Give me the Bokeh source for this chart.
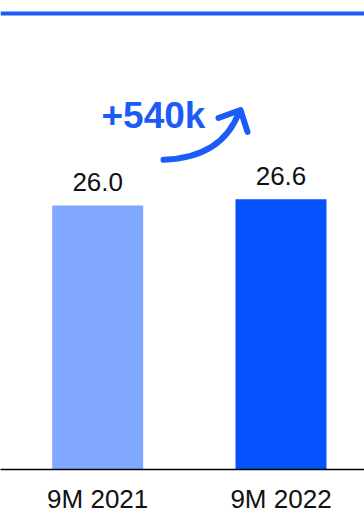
from bokeh.plotting import figure
from bokeh.models import Range1d, Span, FixedTicker
from bokeh.core.properties import value
from bokeh.embed import file_html
from bokeh.resources import INLINE

categories = ["9M 2021", "9M 2022"]
values = [26.0, 26.6]
value_labels = ["26.0", "26.6"]
bar_colors = ["#80A8FF", "#0552FF"]
delta_label = "+540k"

# layout (image pixels -> data) helpers for annotation placement
PX_X0 = 97.2     # x of first bar centre
PX_STEP = 183.3  # px per category
PX_Y0 = 471.0    # y of baseline
PX_PER_UNIT = 10.2

def dx(px):
    return (px - PX_X0) / PX_STEP

def dy(py):
    return (PX_Y0 - py) / PX_PER_UNIT

W, H = 364, 516
p = figure(width=W, height=H, output_backend="svg", toolbar_location=None,
           x_range=Range1d(dx(0), dx(W)), y_range=Range1d(0, dy(0)),
           min_border_left=0, min_border_right=0, min_border_top=0,
           min_border_bottom=int(H - PX_Y0))
p.outline_line_color = None
p.background_fill_color = "white"
p.border_fill_color = "white"
p.xgrid.visible = False
p.ygrid.visible = False
p.yaxis.visible = False

xs = list(range(len(categories)))
p.vbar(x=xs, top=values, bottom=0, width=91 / PX_STEP, color=bar_colors, line_color=None)

p.text(x=xs, y=values, text=value_labels, text_align="center", text_baseline="alphabetic",
       y_offset=-23, text_font=value("Liberation Sans"), text_font_size="26px", text_color="#111111")

xa = p.xaxis[0]
xa.ticker = FixedTicker(ticks=xs)
xa.major_label_overrides = {i: c for i, c in enumerate(categories)}
xa.axis_line_color = "#000000"
xa.axis_line_width = 1.6
xa.major_tick_line_color = None
xa.minor_tick_line_color = None
xa.major_tick_out = 0
xa.major_tick_in = 0
xa.major_label_standoff = 14
xa.major_label_text_font = "Liberation Sans"
xa.major_label_text_font_size = "26px"
xa.major_label_text_color = "#111111"

# top rule
p.add_layout(Span(location=dy(13), dimension="width", line_color="#1A5CF5", line_width=4))

# +540k annotation
p.text(x=[dx(101)], y=[dy(115.5)], text=[delta_label], text_align="left", text_baseline="alphabetic",
       text_font=value("Liberation Sans"), text_font_style="bold", text_font_size="37px",
       text_color="#1A5CF5")

# curved arrow
p.quadratic(x0=[dx(163)], y0=[dy(160)], x1=[dx(239)], y1=[dy(111)], cx=[dx(222)], cy=[dy(158)],
            line_color="#1A5CF5", line_width=6, line_cap="round")
p.multi_line(xs=[[dx(218), dx(240), dx(247)]], ys=[[dy(118), dy(110), dy(132)]],
             line_color="#1A5CF5", line_width=6, line_cap="round", line_join="round")

open("out.html", "w").write(file_html(p, INLINE))
